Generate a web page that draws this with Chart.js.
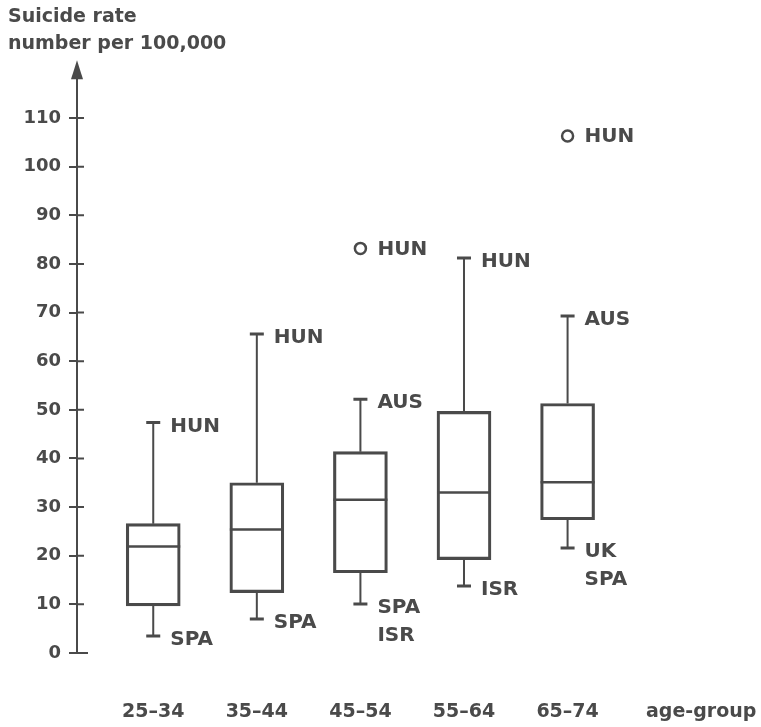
<!DOCTYPE html>
<html>
<head>
<meta charset="utf-8">
<script src="https://cdn.jsdelivr.net/npm/chart.js@4.4.0/dist/chart.umd.min.js"></script>
<style>
  html, body { margin: 0; padding: 0; background: #fff; }
  #wrap { width: 761px; height: 727px; }
</style>
</head>
<body>
<div id="wrap"><canvas id="myChart"></canvas></div>
<script>
// data
const ageGroups = ['25\u201334', '35\u201344', '45\u201354', '55\u201364', '65\u201374'];
const whiskerLow  = [3.5, 7.0, 10.1, 13.8, 21.6];
const boxLow      = [9.7, 12.4, 16.5, 19.2, 27.4];
const medians     = [21.9, 25.4, 31.5, 33.0, 35.1];
const boxHigh     = [26.6, 35.0, 41.4, 49.7, 51.3];
const whiskerHigh = [47.4, 65.6, 52.2, 81.2, 69.3];
const highLabels  = [['HUN'], ['HUN'], ['AUS'], ['HUN'], ['AUS']];
const lowLabels   = [['SPA'], ['SPA'], ['SPA', 'ISR'], ['ISR'], ['UK', 'SPA']];
const outlierGroup  = [3, 5];
const outlierValues = [83.2, 106.3];
const outlierLabels = ['HUN', 'HUN'];
const yTicks = [0, 10, 20, 30, 40, 50, 60, 70, 80, 90, 100, 110];
const xTickValues = [1, 2, 3, 4, 5, 6.29];
const xTickLabels = [...ageGroups, 'age-group'];

const INK = '#4a4a4a';
const FONT = 'DejaVu Sans';

// whiskers, medians, caps, country labels, axis arrow
const boxExtras = {
  id: 'boxExtras',
  afterDatasetsDraw(chart) {
    const ctx = chart.ctx;
    const y = chart.scales.y;
    const x = chart.scales.x;
    const area = chart.chartArea;
    const bars = chart.getDatasetMeta(0).data;
    ctx.save();
    ctx.strokeStyle = INK;
    ctx.fillStyle = INK;
    ctx.font = 'bold 20px "' + FONT + '"';
    ctx.textBaseline = 'middle';
    ctx.textAlign = 'left';
    bars.forEach((bar, i) => {
      const cx = bar.x;
      const half = bar.width / 2;
      const yMed = y.getPixelForValue(medians[i]);
      const yQ1 = y.getPixelForValue(boxLow[i]);
      const yQ3 = y.getPixelForValue(boxHigh[i]);
      const yLo = y.getPixelForValue(whiskerLow[i]);
      const yHi = y.getPixelForValue(whiskerHigh[i]);
      // median
      ctx.lineWidth = 2.5;
      ctx.beginPath();
      ctx.moveTo(cx - half, yMed);
      ctx.lineTo(cx + half, yMed);
      ctx.stroke();
      // whiskers
      ctx.lineWidth = 2;
      ctx.beginPath();
      ctx.moveTo(cx, yQ3); ctx.lineTo(cx, yHi);
      ctx.moveTo(cx, yQ1); ctx.lineTo(cx, yLo);
      ctx.stroke();
      // caps
      ctx.lineWidth = 3;
      ctx.beginPath();
      ctx.moveTo(cx - 7, yHi); ctx.lineTo(cx + 7, yHi);
      ctx.moveTo(cx - 7, yLo); ctx.lineTo(cx + 7, yLo);
      ctx.stroke();
      // labels
      highLabels[i].forEach((t, k) => ctx.fillText(t, cx + 17, yHi + 4 + k * 28));
      lowLabels[i].forEach((t, k) => ctx.fillText(t, cx + 17, yLo + 4 + k * 28));
    });
    // outlier labels
    outlierGroup.forEach((g, k) => {
      ctx.fillText(outlierLabels[k], x.getPixelForValue(g) + 17, y.getPixelForValue(outlierValues[k]) + 1);
    });
    // tick marks crossing the axis (the zero tick a little longer)
    ctx.lineWidth = 2;
    ctx.beginPath();
    y.ticks.forEach(t => {
      const py = y.getPixelForValue(t.value);
      ctx.moveTo(area.left, py);
      ctx.lineTo(area.left + (t.value === 0 ? 11 : 7), py);
    });
    ctx.stroke();
    // arrow head on y axis
    ctx.beginPath();
    ctx.moveTo(area.left, area.top - 17);
    ctx.lineTo(area.left - 6, area.top + 2);
    ctx.lineTo(area.left + 6, area.top + 2);
    ctx.closePath();
    ctx.fill();
    ctx.restore();
  }
};

const CHART = document.getElementById('myChart');
const myChart = new Chart(CHART, {
  data: {
    datasets: [{
      type: 'bar',
      data: ageGroups.map((g, i) => ({ x: i + 1, y: [boxLow[i], boxHigh[i]] })),
      backgroundColor: 'rgba(255,255,255,0)',
      borderColor: INK,
      borderWidth: 2.5,
      borderSkipped: false,
      barThickness: 54
    }, {
      type: 'scatter',
      data: outlierGroup.map((g, k) => ({ x: g, y: outlierValues[k] })),
      pointRadius: 5.5,
      pointBorderWidth: 2.5,
      pointBackgroundColor: '#fff',
      pointBorderColor: INK
    }]
  },
  options: {
    responsive: true,
    maintainAspectRatio: false,
    animation: false,
    events: [],
    layout: { padding: { left: 8, right: 6, top: 0, bottom: 2 } },
    plugins: {
      legend: { display: false },
      tooltip: { enabled: false },
      title: {
        display: true,
        text: ['Suicide rate', 'number per 100,000'],
        align: 'start',
        color: INK,
        font: { family: FONT, size: 19, weight: 'bold', lineHeight: 1.4 },
        padding: { top: 4, bottom: 20 }
      }
    },
    scales: {
      x: {
        type: 'linear',
        offset: false,
        min: 0.264,
        max: 6.79,
        border: { display: false },
        grid: { display: false, drawTicks: false },
        afterBuildTicks: s => { s.ticks = xTickValues.map(v => ({ value: v })); },
        afterFit: s => { s.height = 72; s.paddingLeft = 0; s.paddingRight = 0; },
        ticks: {
          padding: 48,
          color: INK,
          font: { family: FONT, size: 19, weight: 'bold' },
          maxRotation: 0,
          autoSkip: false,
          callback: (v, i) => xTickLabels[i]
        }
      },
      y: {
        min: 0,
        max: 118.4,
        border: { display: true, color: INK, width: 2 },
        grid: { drawOnChartArea: false, drawTicks: true, tickLength: 8, color: INK, lineWidth: 2 },
        afterBuildTicks: s => { s.ticks = yTicks.map(v => ({ value: v })); },
        afterFit: s => { s.width = 69; },
        ticks: {
          padding: 8,
          color: INK,
          font: { family: FONT, size: 18, weight: 'bold' }
        }
      }
    }
  },
  plugins: [boxExtras]
});
</script>
</body>
</html>
